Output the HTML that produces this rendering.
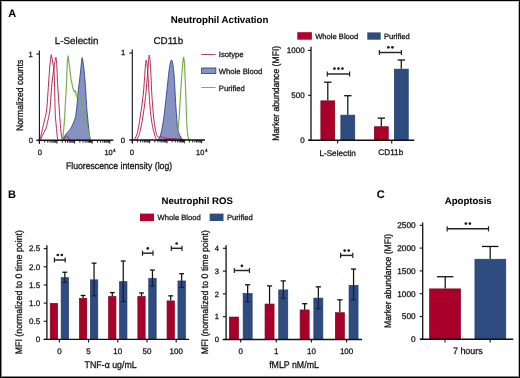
<!DOCTYPE html>
<html><head><meta charset="utf-8"><style>
html,body{margin:0;padding:0;background:#fff;}
#fig{position:relative;width:520px;height:378px;overflow:hidden;background:#fff;}
#fig svg{position:absolute;left:0;top:0;filter:blur(0.35px);}
#frame{position:absolute;left:0;top:0;width:518px;height:376px;border-top:1px solid #000;border-left:1px solid #000;border-right:1px solid #000;border-bottom:1px solid #000;}
#fr2{position:absolute;left:1px;top:1px;width:516px;height:374px;border-left:1px solid #888;border-top:1px solid #ccc;border-right:1px solid #b8b8b8;border-bottom:1px solid #858585;}
text{font-family:"Liberation Sans", sans-serif;text-rendering:geometricPrecision;stroke:#111;stroke-width:0.26px;paint-order:stroke;}
</style></head><body>
<div id="fig">
<svg width="520" height="378" viewBox="0 0 520 378">
<g font-family="Liberation Sans, sans-serif">
<text x="8.3" y="16.6" font-size="11" text-anchor="start" font-weight="bold" fill="#000" style="stroke-width:0.05px" >A</text>
<text x="7.9" y="198.4" font-size="11" text-anchor="start" font-weight="bold" fill="#000" style="stroke-width:0.05px" >B</text>
<text x="376.8" y="198.4" font-size="11" text-anchor="start" font-weight="bold" fill="#000" style="stroke-width:0.05px" >C</text>
<text x="219.6" y="22.5" font-size="9.7" text-anchor="middle" font-weight="bold" fill="#000" style="stroke-width:0.05px" >Neutrophil Activation</text>
<text x="197.2" y="204.0" font-size="9.6" text-anchor="middle" font-weight="bold" fill="#000" style="stroke-width:0.05px" >Neutrophil ROS</text>
<text x="468.2" y="204.0" font-size="9.6" text-anchor="middle" font-weight="bold" fill="#000" style="stroke-width:0.05px" >Apoptosis</text>
<path d="M61.50,140.30 C61.90,139.75 63.03,138.17 63.90,137.00 C64.77,135.83 65.93,134.25 66.70,133.30 C67.47,132.35 67.92,131.97 68.50,131.30 C69.08,130.63 69.63,130.15 70.20,129.30 C70.77,128.45 71.33,127.37 71.90,126.20 C72.47,125.03 73.08,123.53 73.60,122.30 C74.12,121.07 74.62,120.10 75.00,118.80 C75.38,117.50 75.63,116.13 75.90,114.50 C76.17,112.87 76.38,110.92 76.60,109.00 C76.82,107.08 77.00,105.33 77.20,103.00 C77.40,100.67 77.55,97.67 77.80,95.00 C78.05,92.33 78.40,89.50 78.70,87.00 C79.00,84.50 79.30,82.50 79.60,80.00 C79.90,77.50 80.23,74.50 80.50,72.00 C80.77,69.50 81.00,67.00 81.20,65.00 C81.40,63.00 81.55,61.23 81.70,60.00 C81.85,58.77 81.93,57.60 82.10,57.60 C82.27,57.60 82.45,58.60 82.70,60.00 C82.95,61.40 83.32,63.67 83.60,66.00 C83.88,68.33 84.15,71.50 84.40,74.00 C84.65,76.50 84.88,78.33 85.10,81.00 C85.32,83.67 85.48,86.50 85.70,90.00 C85.92,93.50 86.20,98.67 86.40,102.00 C86.60,105.33 86.70,107.50 86.90,110.00 C87.10,112.50 87.35,114.33 87.60,117.00 C87.85,119.67 88.13,123.33 88.40,126.00 C88.67,128.67 88.95,131.08 89.20,133.00 C89.45,134.92 89.67,136.28 89.90,137.50 C90.13,138.72 90.48,139.83 90.60,140.30 Z" fill="#8692c2" stroke="#34448a" stroke-width="0.9"/>
<path d="M39.60,140.30 C39.70,139.92 39.93,138.97 40.20,138.00 C40.47,137.03 40.80,136.08 41.20,134.50 C41.60,132.92 42.03,130.92 42.60,128.50 C43.17,126.08 43.93,123.08 44.60,120.00 C45.27,116.92 46.07,114.17 46.60,110.00 C47.13,105.83 47.43,100.00 47.80,95.00 C48.17,90.00 48.47,84.67 48.80,80.00 C49.13,75.33 49.48,70.67 49.80,67.00 C50.12,63.33 50.45,60.07 50.70,58.00 C50.95,55.93 51.08,54.60 51.30,54.60 C51.52,54.60 51.72,56.43 52.00,58.00 C52.28,59.57 52.68,62.17 53.00,64.00 C53.32,65.83 53.67,66.33 53.90,69.00 C54.13,71.67 54.25,75.67 54.40,80.00 C54.55,84.33 54.68,90.00 54.80,95.00 C54.92,100.00 54.95,105.83 55.10,110.00 C55.25,114.17 55.47,116.92 55.70,120.00 C55.93,123.08 56.27,126.00 56.50,128.50 C56.73,131.00 56.87,133.03 57.10,135.00 C57.33,136.97 57.77,139.42 57.90,140.30" fill="none" stroke="#b0204c" stroke-width="0.95" stroke-linejoin="round"/>
<path d="M40.50,140.30 C40.70,139.78 41.20,138.38 41.70,137.20 C42.20,136.02 42.80,134.65 43.50,133.20 C44.20,131.75 45.15,130.70 45.90,128.50 C46.65,126.30 47.33,123.08 48.00,120.00 C48.67,116.92 49.40,114.17 49.90,110.00 C50.40,105.83 50.60,100.00 51.00,95.00 C51.40,90.00 51.82,84.45 52.30,80.00 C52.78,75.55 53.47,71.38 53.90,68.30 C54.33,65.22 54.57,63.35 54.90,61.50 C55.23,59.65 55.63,57.12 55.90,57.20 C56.17,57.28 56.32,59.87 56.50,62.00 C56.68,64.13 56.85,67.00 57.00,70.00 C57.15,73.00 57.18,75.83 57.40,80.00 C57.62,84.17 57.98,90.00 58.30,95.00 C58.62,100.00 59.02,105.83 59.30,110.00 C59.58,114.17 59.77,116.92 60.00,120.00 C60.23,123.08 60.48,126.00 60.70,128.50 C60.92,131.00 61.08,133.20 61.30,135.00 C61.52,136.80 61.78,138.42 62.00,139.30 C62.22,140.18 62.50,140.13 62.60,140.30" fill="none" stroke="#b0204c" stroke-width="0.95" stroke-linejoin="round"/>
<path d="M62.60,140.30 C62.83,140.08 63.52,139.57 64.00,139.00 C64.48,138.43 65.05,137.37 65.50,136.90 C65.95,136.43 66.28,136.18 66.70,136.20 C67.12,136.22 67.53,136.48 68.00,137.00 C68.47,137.52 69.00,138.75 69.50,139.30 C70.00,139.85 70.75,140.13 71.00,140.30" fill="none" stroke="#b0204c" stroke-width="0.95" stroke-linejoin="round"/>
<path d="M62.00,140.30 C62.10,140.00 62.30,140.47 62.60,138.50 C62.90,136.53 63.43,132.58 63.80,128.50 C64.17,124.42 64.53,118.25 64.80,114.00 C65.07,109.75 65.15,107.33 65.40,103.00 C65.65,98.67 66.03,93.50 66.30,88.00 C66.57,82.50 66.80,74.50 67.00,70.00 C67.20,65.50 67.33,63.37 67.50,61.00 C67.67,58.63 67.82,55.97 68.00,55.80 C68.18,55.63 68.33,57.97 68.60,60.00 C68.87,62.03 69.27,65.33 69.60,68.00 C69.93,70.67 70.27,73.67 70.60,76.00 C70.93,78.33 71.22,80.00 71.60,82.00 C71.98,84.00 72.40,86.37 72.90,88.00 C73.40,89.63 74.15,91.30 74.60,91.80 C75.05,92.30 75.33,90.38 75.60,91.00 C75.87,91.62 75.97,94.58 76.20,95.50 C76.43,96.42 76.70,96.62 77.00,96.50 C77.30,96.38 77.67,94.75 78.00,94.80 C78.33,94.85 78.63,96.40 79.00,96.80 C79.37,97.20 79.82,96.92 80.20,97.20 C80.58,97.48 80.90,97.03 81.30,98.50 C81.70,99.97 82.15,103.58 82.60,106.00 C83.05,108.42 83.53,110.83 84.00,113.00 C84.47,115.17 84.90,116.83 85.40,119.00 C85.90,121.17 86.53,124.00 87.00,126.00 C87.47,128.00 87.83,129.42 88.20,131.00 C88.57,132.58 88.92,134.23 89.20,135.50 C89.48,136.77 89.67,137.80 89.90,138.60 C90.13,139.40 90.48,140.02 90.60,140.30" fill="none" stroke="#74ae46" stroke-width="1.15" stroke-linejoin="round"/>
<line x1="39.4" y1="50.4" x2="39.4" y2="143.70000000000002" stroke="#111" stroke-width="1.1" />
<line x1="36.4" y1="54.0" x2="39.4" y2="54.0" stroke="#111" stroke-width="1.1" />
<line x1="36.4" y1="140.3" x2="113.3" y2="140.3" stroke="#111" stroke-width="1.4" />
<line x1="39.4" y1="140.3" x2="39.4" y2="143.60000000000002" stroke="#111" stroke-width="0.95" />
<line x1="44.7" y1="140.3" x2="44.7" y2="142.70000000000002" stroke="#111" stroke-width="0.95" />
<line x1="47.8" y1="140.3" x2="47.8" y2="142.70000000000002" stroke="#111" stroke-width="0.95" />
<line x1="50.0" y1="140.3" x2="50.0" y2="142.70000000000002" stroke="#111" stroke-width="0.95" />
<line x1="51.7" y1="140.3" x2="51.7" y2="142.70000000000002" stroke="#111" stroke-width="0.95" />
<line x1="53.1" y1="140.3" x2="53.1" y2="142.70000000000002" stroke="#111" stroke-width="0.95" />
<line x1="54.27" y1="140.3" x2="54.27" y2="142.70000000000002" stroke="#111" stroke-width="0.95" />
<line x1="55.29" y1="140.3" x2="55.29" y2="142.70000000000002" stroke="#111" stroke-width="0.95" />
<line x1="56.19" y1="140.3" x2="56.19" y2="142.70000000000002" stroke="#111" stroke-width="0.95" />
<line x1="57.0" y1="140.3" x2="57.0" y2="143.60000000000002" stroke="#111" stroke-width="0.95" />
<line x1="62.3" y1="140.3" x2="62.3" y2="142.70000000000002" stroke="#111" stroke-width="0.95" />
<line x1="65.4" y1="140.3" x2="65.4" y2="142.70000000000002" stroke="#111" stroke-width="0.95" />
<line x1="67.6" y1="140.3" x2="67.6" y2="142.70000000000002" stroke="#111" stroke-width="0.95" />
<line x1="69.3" y1="140.3" x2="69.3" y2="142.70000000000002" stroke="#111" stroke-width="0.95" />
<line x1="70.7" y1="140.3" x2="70.7" y2="142.70000000000002" stroke="#111" stroke-width="0.95" />
<line x1="71.87" y1="140.3" x2="71.87" y2="142.70000000000002" stroke="#111" stroke-width="0.95" />
<line x1="72.89" y1="140.3" x2="72.89" y2="142.70000000000002" stroke="#111" stroke-width="0.95" />
<line x1="73.79" y1="140.3" x2="73.79" y2="142.70000000000002" stroke="#111" stroke-width="0.95" />
<line x1="74.6" y1="140.3" x2="74.6" y2="143.60000000000002" stroke="#111" stroke-width="0.95" />
<line x1="79.9" y1="140.3" x2="79.9" y2="142.70000000000002" stroke="#111" stroke-width="0.95" />
<line x1="83.0" y1="140.3" x2="83.0" y2="142.70000000000002" stroke="#111" stroke-width="0.95" />
<line x1="85.2" y1="140.3" x2="85.2" y2="142.70000000000002" stroke="#111" stroke-width="0.95" />
<line x1="86.9" y1="140.3" x2="86.9" y2="142.70000000000002" stroke="#111" stroke-width="0.95" />
<line x1="88.3" y1="140.3" x2="88.3" y2="142.70000000000002" stroke="#111" stroke-width="0.95" />
<line x1="89.47" y1="140.3" x2="89.47" y2="142.70000000000002" stroke="#111" stroke-width="0.95" />
<line x1="90.49" y1="140.3" x2="90.49" y2="142.70000000000002" stroke="#111" stroke-width="0.95" />
<line x1="91.39" y1="140.3" x2="91.39" y2="142.70000000000002" stroke="#111" stroke-width="0.95" />
<line x1="92.2" y1="140.3" x2="92.2" y2="143.60000000000002" stroke="#111" stroke-width="0.95" />
<line x1="97.5" y1="140.3" x2="97.5" y2="142.70000000000002" stroke="#111" stroke-width="0.95" />
<line x1="100.6" y1="140.3" x2="100.6" y2="142.70000000000002" stroke="#111" stroke-width="0.95" />
<line x1="102.8" y1="140.3" x2="102.8" y2="142.70000000000002" stroke="#111" stroke-width="0.95" />
<line x1="104.5" y1="140.3" x2="104.5" y2="142.70000000000002" stroke="#111" stroke-width="0.95" />
<line x1="105.9" y1="140.3" x2="105.9" y2="142.70000000000002" stroke="#111" stroke-width="0.95" />
<line x1="107.07" y1="140.3" x2="107.07" y2="142.70000000000002" stroke="#111" stroke-width="0.95" />
<line x1="108.09" y1="140.3" x2="108.09" y2="142.70000000000002" stroke="#111" stroke-width="0.95" />
<line x1="108.99" y1="140.3" x2="108.99" y2="142.70000000000002" stroke="#111" stroke-width="0.95" />
<line x1="109.8" y1="140.3" x2="109.8" y2="143.60000000000002" stroke="#111" stroke-width="1.0" />
<text x="30.6" y="56.51" font-size="7.6" text-anchor="middle" font-weight="normal" fill="#111" >1</text>
<text x="30.8" y="143.06" font-size="7.6" text-anchor="middle" font-weight="normal" fill="#111" >0</text>
<text x="39.8" y="154.86" font-size="7.6" text-anchor="middle" font-weight="normal" fill="#111" >0</text>
<text x="104.5" y="155.0" font-size="7.4" text-anchor="start" font-weight="normal" fill="#111" >10</text>
<text x="112.9" y="151.6" font-size="4.6" text-anchor="start" font-weight="normal" fill="#111" >4</text>
<text x="76.6" y="44.37" font-size="9.8" text-anchor="middle" font-weight="normal" fill="#111" >L-Selectin</text>
<text transform="translate(19.3,95.3) rotate(-90) scale(1,1.1)" x="0" y="2.96" font-size="8.6" text-anchor="middle" fill="#111">Normalized counts</text>
<g transform="translate(119.0,169.49) scale(1,1.1)"><text x="0" y="0" font-size="8.7" text-anchor="middle" font-weight="normal" fill="#111" >Fluorescence intensity (log)</text></g>
<path d="M157.30,140.30 C157.62,139.95 158.62,139.25 159.20,138.20 C159.78,137.15 160.28,135.87 160.80,134.00 C161.32,132.13 161.80,129.67 162.30,127.00 C162.80,124.33 163.32,121.50 163.80,118.00 C164.28,114.50 164.77,109.83 165.20,106.00 C165.63,102.17 166.00,98.67 166.40,95.00 C166.80,91.33 167.18,87.83 167.60,84.00 C168.02,80.17 168.45,75.50 168.90,72.00 C169.35,68.50 169.87,65.00 170.30,63.00 C170.73,61.00 171.12,60.00 171.50,60.00 C171.88,60.00 172.22,61.00 172.60,63.00 C172.98,65.00 173.45,68.33 173.80,72.00 C174.15,75.67 174.45,80.83 174.70,85.00 C174.95,89.17 175.10,93.33 175.30,97.00 C175.50,100.67 175.68,103.67 175.90,107.00 C176.12,110.33 176.35,113.75 176.60,117.00 C176.85,120.25 177.08,124.00 177.40,126.50 C177.72,129.00 178.07,130.45 178.50,132.00 C178.93,133.55 179.48,134.75 180.00,135.80 C180.52,136.85 181.05,137.55 181.60,138.30 C182.15,139.05 183.02,139.97 183.30,140.30 Z" fill="#8692c2" stroke="#34448a" stroke-width="0.9"/>
<path d="M133.50,140.30 C133.75,140.00 134.42,139.55 135.00,138.50 C135.58,137.45 136.40,135.97 137.00,134.00 C137.60,132.03 138.02,129.87 138.60,126.70 C139.18,123.53 139.88,119.12 140.50,115.00 C141.12,110.88 141.80,105.83 142.30,102.00 C142.80,98.17 143.13,95.83 143.50,92.00 C143.87,88.17 144.18,83.33 144.50,79.00 C144.82,74.67 145.12,69.13 145.40,66.00 C145.68,62.87 145.93,60.53 146.20,60.20 C146.47,59.87 146.70,61.37 147.00,64.00 C147.30,66.63 147.67,71.33 148.00,76.00 C148.33,80.67 148.65,86.67 149.00,92.00 C149.35,97.33 149.68,103.33 150.10,108.00 C150.52,112.67 151.03,116.67 151.50,120.00 C151.97,123.33 152.42,125.67 152.90,128.00 C153.38,130.33 153.90,132.27 154.40,134.00 C154.90,135.73 155.45,137.35 155.90,138.40 C156.35,139.45 156.90,139.98 157.10,140.30" fill="none" stroke="#b0204c" stroke-width="0.95" stroke-linejoin="round"/>
<path d="M135.50,140.30 C135.75,140.08 136.42,139.85 137.00,139.00 C137.58,138.15 138.33,137.20 139.00,135.20 C139.67,133.20 140.33,130.20 141.00,127.00 C141.67,123.80 142.37,120.00 143.00,116.00 C143.63,112.00 144.27,107.33 144.80,103.00 C145.33,98.67 145.77,94.50 146.20,90.00 C146.63,85.50 147.02,80.67 147.40,76.00 C147.78,71.33 148.20,65.50 148.50,62.00 C148.80,58.50 148.95,55.33 149.20,55.00 C149.45,54.67 149.73,57.17 150.00,60.00 C150.27,62.83 150.53,67.00 150.80,72.00 C151.07,77.00 151.32,84.67 151.60,90.00 C151.88,95.33 152.17,99.50 152.50,104.00 C152.83,108.50 153.18,113.17 153.60,117.00 C154.02,120.83 154.55,124.25 155.00,127.00 C155.45,129.75 155.87,131.90 156.30,133.50 C156.73,135.10 157.07,135.98 157.60,136.60 C158.13,137.22 158.85,137.17 159.50,137.20 C160.15,137.23 160.83,136.73 161.50,136.80 C162.17,136.87 162.75,137.35 163.50,137.60 C164.25,137.85 164.92,138.13 166.00,138.30 C167.08,138.47 168.50,138.53 170.00,138.60 C171.50,138.67 173.33,138.65 175.00,138.70 C176.67,138.75 178.58,138.75 180.00,138.90 C181.42,139.05 182.58,139.37 183.50,139.60 C184.42,139.83 185.17,140.18 185.50,140.30" fill="none" stroke="#b0204c" stroke-width="0.95" stroke-linejoin="round"/>
<path d="M176.40,140.30 C176.55,139.92 177.00,140.05 177.30,138.00 C177.60,135.95 177.88,131.67 178.20,128.00 C178.52,124.33 178.90,120.17 179.20,116.00 C179.50,111.83 179.73,107.33 180.00,103.00 C180.27,98.67 180.50,94.67 180.80,90.00 C181.10,85.33 181.47,79.50 181.80,75.00 C182.13,70.50 182.50,65.95 182.80,63.00 C183.10,60.05 183.35,57.47 183.60,57.30 C183.85,57.13 184.07,59.05 184.30,62.00 C184.53,64.95 184.77,70.00 185.00,75.00 C185.23,80.00 185.50,86.50 185.70,92.00 C185.90,97.50 186.02,102.67 186.20,108.00 C186.38,113.33 186.58,119.83 186.80,124.00 C187.02,128.17 187.23,130.58 187.50,133.00 C187.77,135.42 188.08,137.28 188.40,138.50 C188.72,139.72 189.23,140.00 189.40,140.30" fill="none" stroke="#74ae46" stroke-width="1.15" stroke-linejoin="round"/>
<line x1="132.3" y1="49.5" x2="132.3" y2="143.4" stroke="#111" stroke-width="1.1" />
<line x1="129.3" y1="53.0" x2="132.3" y2="53.0" stroke="#111" stroke-width="1.1" />
<line x1="129.3" y1="140.0" x2="205.0" y2="140.0" stroke="#111" stroke-width="1.4" />
<line x1="132.3" y1="140.0" x2="132.3" y2="143.3" stroke="#111" stroke-width="0.95" />
<line x1="137.52" y1="140.0" x2="137.52" y2="142.4" stroke="#111" stroke-width="0.95" />
<line x1="140.58" y1="140.0" x2="140.58" y2="142.4" stroke="#111" stroke-width="0.95" />
<line x1="142.75" y1="140.0" x2="142.75" y2="142.4" stroke="#111" stroke-width="0.95" />
<line x1="144.43" y1="140.0" x2="144.43" y2="142.4" stroke="#111" stroke-width="0.95" />
<line x1="145.8" y1="140.0" x2="145.8" y2="142.4" stroke="#111" stroke-width="0.95" />
<line x1="146.96" y1="140.0" x2="146.96" y2="142.4" stroke="#111" stroke-width="0.95" />
<line x1="147.97" y1="140.0" x2="147.97" y2="142.4" stroke="#111" stroke-width="0.95" />
<line x1="148.86" y1="140.0" x2="148.86" y2="142.4" stroke="#111" stroke-width="0.95" />
<line x1="149.65" y1="140.0" x2="149.65" y2="143.3" stroke="#111" stroke-width="0.95" />
<line x1="154.87" y1="140.0" x2="154.87" y2="142.4" stroke="#111" stroke-width="0.95" />
<line x1="157.93" y1="140.0" x2="157.93" y2="142.4" stroke="#111" stroke-width="0.95" />
<line x1="160.1" y1="140.0" x2="160.1" y2="142.4" stroke="#111" stroke-width="0.95" />
<line x1="161.78" y1="140.0" x2="161.78" y2="142.4" stroke="#111" stroke-width="0.95" />
<line x1="163.15" y1="140.0" x2="163.15" y2="142.4" stroke="#111" stroke-width="0.95" />
<line x1="164.31" y1="140.0" x2="164.31" y2="142.4" stroke="#111" stroke-width="0.95" />
<line x1="165.32" y1="140.0" x2="165.32" y2="142.4" stroke="#111" stroke-width="0.95" />
<line x1="166.21" y1="140.0" x2="166.21" y2="142.4" stroke="#111" stroke-width="0.95" />
<line x1="167.0" y1="140.0" x2="167.0" y2="143.3" stroke="#111" stroke-width="0.95" />
<line x1="172.22" y1="140.0" x2="172.22" y2="142.4" stroke="#111" stroke-width="0.95" />
<line x1="175.28" y1="140.0" x2="175.28" y2="142.4" stroke="#111" stroke-width="0.95" />
<line x1="177.45" y1="140.0" x2="177.45" y2="142.4" stroke="#111" stroke-width="0.95" />
<line x1="179.13" y1="140.0" x2="179.13" y2="142.4" stroke="#111" stroke-width="0.95" />
<line x1="180.5" y1="140.0" x2="180.5" y2="142.4" stroke="#111" stroke-width="0.95" />
<line x1="181.66" y1="140.0" x2="181.66" y2="142.4" stroke="#111" stroke-width="0.95" />
<line x1="182.67" y1="140.0" x2="182.67" y2="142.4" stroke="#111" stroke-width="0.95" />
<line x1="183.56" y1="140.0" x2="183.56" y2="142.4" stroke="#111" stroke-width="0.95" />
<line x1="184.35" y1="140.0" x2="184.35" y2="143.3" stroke="#111" stroke-width="0.95" />
<line x1="189.57" y1="140.0" x2="189.57" y2="142.4" stroke="#111" stroke-width="0.95" />
<line x1="192.63" y1="140.0" x2="192.63" y2="142.4" stroke="#111" stroke-width="0.95" />
<line x1="194.8" y1="140.0" x2="194.8" y2="142.4" stroke="#111" stroke-width="0.95" />
<line x1="196.48" y1="140.0" x2="196.48" y2="142.4" stroke="#111" stroke-width="0.95" />
<line x1="197.85" y1="140.0" x2="197.85" y2="142.4" stroke="#111" stroke-width="0.95" />
<line x1="199.01" y1="140.0" x2="199.01" y2="142.4" stroke="#111" stroke-width="0.95" />
<line x1="200.02" y1="140.0" x2="200.02" y2="142.4" stroke="#111" stroke-width="0.95" />
<line x1="200.91" y1="140.0" x2="200.91" y2="142.4" stroke="#111" stroke-width="0.95" />
<line x1="201.7" y1="140.0" x2="201.7" y2="143.3" stroke="#111" stroke-width="1.0" />
<text x="123.0" y="55.46" font-size="7.6" text-anchor="middle" font-weight="normal" fill="#111" >1</text>
<text x="122.9" y="142.51" font-size="7.6" text-anchor="middle" font-weight="normal" fill="#111" >0</text>
<text x="131.9" y="155.31" font-size="7.6" text-anchor="middle" font-weight="normal" fill="#111" >0</text>
<text x="196.1" y="155.0" font-size="7.4" text-anchor="start" font-weight="normal" fill="#111" >10</text>
<text x="204.9" y="151.6" font-size="4.6" text-anchor="start" font-weight="normal" fill="#111" >4</text>
<text x="168.4" y="44.37" font-size="9.8" text-anchor="middle" font-weight="normal" fill="#111" >CD11b</text>
<line x1="201.2" y1="54.5" x2="215.6" y2="54.5" stroke="#a8506c" stroke-width="1.0" />
<text x="218.8" y="56.9" font-size="7.7" text-anchor="start" font-weight="normal" fill="#111" >Isotype</text>
<rect x="201.6" y="68.0" width="14.2" height="5.6" fill="#8692c2" stroke="#34448a" stroke-width="0.9" />
<text x="218.8" y="73.5" font-size="7.7" text-anchor="start" font-weight="normal" fill="#111" >Whole Blood</text>
<line x1="201.2" y1="87.5" x2="215.6" y2="87.5" stroke="#7cae60" stroke-width="1.0" />
<text x="218.8" y="90.5" font-size="7.7" text-anchor="start" font-weight="normal" fill="#111" >Purified</text>
<rect x="297.3" y="32.2" width="14.6" height="7.5" fill="#b3002c" stroke="none" stroke-width="0" />
<text x="315.2" y="39.0" font-size="7.6" text-anchor="start" font-weight="normal" fill="#111" >Whole Blood</text>
<rect x="367.3" y="32.4" width="13.4" height="7.3" fill="#2f4c80" stroke="none" stroke-width="0" />
<text x="384.0" y="39.0" font-size="7.6" text-anchor="start" font-weight="normal" fill="#111" >Purified</text>
<rect x="320.85" y="100.85" width="13.9" height="39.34999999999999" fill="#a9002b" stroke="#80001f" stroke-width="0.7" />
<rect x="340.85" y="115.14999999999999" width="13.9" height="25.04999999999999" fill="#2f4c80" stroke="#223a68" stroke-width="0.7" />
<rect x="374.35" y="126.75" width="13.9" height="13.449999999999983" fill="#a9002b" stroke="#80001f" stroke-width="0.7" />
<rect x="394.35" y="69.14999999999999" width="13.9" height="71.05" fill="#2f4c80" stroke="#223a68" stroke-width="0.7" />
<line x1="327.8" y1="82.2" x2="327.8" y2="100.5" stroke="#111" stroke-width="1.25" />
<line x1="324.1" y1="82.2" x2="331.5" y2="82.2" stroke="#111" stroke-width="1.3" />
<line x1="347.8" y1="95.7" x2="347.8" y2="114.8" stroke="#111" stroke-width="1.25" />
<line x1="344.1" y1="95.7" x2="351.5" y2="95.7" stroke="#111" stroke-width="1.3" />
<line x1="381.3" y1="118.1" x2="381.3" y2="126.4" stroke="#111" stroke-width="1.25" />
<line x1="377.6" y1="118.1" x2="385.0" y2="118.1" stroke="#111" stroke-width="1.3" />
<line x1="401.3" y1="60.0" x2="401.3" y2="68.8" stroke="#111" stroke-width="1.25" />
<line x1="397.6" y1="60.0" x2="405.0" y2="60.0" stroke="#111" stroke-width="1.3" />
<line x1="311.0" y1="46.7" x2="311.0" y2="140.79999999999998" stroke="#111" stroke-width="1.3" />
<line x1="308.0" y1="50.4" x2="311.0" y2="50.4" stroke="#111" stroke-width="1.1" />
<text x="304.6" y="53.15" font-size="8.0" text-anchor="end" font-weight="normal" fill="#111" >1000</text>
<line x1="308.0" y1="95.3" x2="311.0" y2="95.3" stroke="#111" stroke-width="1.1" />
<text x="304.6" y="98.05" font-size="8.0" text-anchor="end" font-weight="normal" fill="#111" >500</text>
<line x1="308.0" y1="140.2" x2="311.0" y2="140.2" stroke="#111" stroke-width="1.1" />
<text x="304.6" y="142.95" font-size="8.0" text-anchor="end" font-weight="normal" fill="#111" >0</text>
<line x1="308.5" y1="140.2" x2="414.3" y2="140.2" stroke="#111" stroke-width="1.4" />
<line x1="337.6" y1="140.2" x2="337.6" y2="143.4" stroke="#111" stroke-width="1.1" />
<line x1="391.7" y1="140.2" x2="391.7" y2="143.4" stroke="#111" stroke-width="1.1" />
<text x="337.6" y="155.72" font-size="8.2" text-anchor="middle" font-weight="normal" fill="#111" >L-Selectin</text>
<text x="390.8" y="155.22" font-size="8.2" text-anchor="middle" font-weight="normal" fill="#111" >CD11b</text>
<text transform="translate(276.1,93.25) rotate(-90) scale(1,1.1)" x="0" y="2.98" font-size="8.65" text-anchor="middle" fill="#111">Marker abundance (MFI)</text>
<line x1="327.3" y1="74.0" x2="349.6" y2="74.0" stroke="#222" stroke-width="1.45" />
<line x1="327.3" y1="71.4" x2="327.3" y2="76.6" stroke="#222" stroke-width="1.2" />
<line x1="349.6" y1="71.4" x2="349.6" y2="76.6" stroke="#222" stroke-width="1.2" />
<circle cx="334.45" cy="68.6" r="1.35" fill="#1a1a1a"/>
<circle cx="338.45" cy="68.6" r="1.35" fill="#1a1a1a"/>
<circle cx="342.45" cy="68.6" r="1.35" fill="#1a1a1a"/>
<line x1="379.4" y1="52.5" x2="401.4" y2="52.5" stroke="#222" stroke-width="1.45" />
<line x1="379.4" y1="49.9" x2="379.4" y2="55.1" stroke="#222" stroke-width="1.2" />
<line x1="401.4" y1="49.9" x2="401.4" y2="55.1" stroke="#222" stroke-width="1.2" />
<circle cx="388.40" cy="47.3" r="1.35" fill="#1a1a1a"/>
<circle cx="392.40" cy="47.3" r="1.35" fill="#1a1a1a"/>
<rect x="140.0" y="213.6" width="14.0" height="7.4" fill="#b3002c" stroke="none" stroke-width="0" />
<text x="157.6" y="220.3" font-size="7.6" text-anchor="start" font-weight="normal" fill="#111" >Whole Blood</text>
<rect x="209.7" y="213.6" width="13.8" height="7.4" fill="#2f4c80" stroke="none" stroke-width="0" />
<text x="227.0" y="220.3" font-size="7.6" text-anchor="start" font-weight="normal" fill="#111" >Purified</text>
<rect x="50.25" y="303.45" width="7.3" height="35.95000000000001" fill="#a9002b" stroke="#80001f" stroke-width="0.7" />
<rect x="61.15" y="277.677" width="7.3999999999999995" height="61.72299999999998" fill="#2f4c80" stroke="#223a68" stroke-width="0.7" />
<line x1="64.85" y1="272.245" x2="64.85" y2="277.327" stroke="#111" stroke-width="1.25" />
<line x1="62.449999999999996" y1="272.245" x2="67.25" y2="272.245" stroke="#111" stroke-width="1.3" />
<line x1="64.85" y1="277.327" x2="64.85" y2="282.409" stroke="#14203c" stroke-width="1.25" />
<line x1="62.449999999999996" y1="282.409" x2="67.25" y2="282.409" stroke="#14203c" stroke-width="1.1" />
<rect x="79.44999999999999" y="298.368" width="7.3" height="41.032000000000004" fill="#a9002b" stroke="#80001f" stroke-width="0.7" />
<rect x="90.35" y="279.855" width="7.3999999999999995" height="59.54499999999998" fill="#2f4c80" stroke="#223a68" stroke-width="0.7" />
<line x1="83.1" y1="295.477" x2="83.1" y2="298.018" stroke="#111" stroke-width="1.25" />
<line x1="80.69999999999999" y1="295.477" x2="85.5" y2="295.477" stroke="#111" stroke-width="1.3" />
<line x1="94.05" y1="263.16999999999996" x2="94.05" y2="279.505" stroke="#111" stroke-width="1.25" />
<line x1="91.64999999999999" y1="263.16999999999996" x2="96.45" y2="263.16999999999996" stroke="#111" stroke-width="1.3" />
<line x1="94.05" y1="279.505" x2="94.05" y2="295.84" stroke="#14203c" stroke-width="1.25" />
<line x1="91.64999999999999" y1="295.84" x2="96.45" y2="295.84" stroke="#14203c" stroke-width="1.1" />
<rect x="108.64999999999999" y="296.553" width="7.3" height="42.847" fill="#a9002b" stroke="#80001f" stroke-width="0.7" />
<rect x="119.55" y="281.67" width="7.3999999999999995" height="57.72999999999998" fill="#2f4c80" stroke="#223a68" stroke-width="0.7" />
<line x1="112.3" y1="292.573" x2="112.3" y2="296.203" stroke="#111" stroke-width="1.25" />
<line x1="109.89999999999999" y1="292.573" x2="114.7" y2="292.573" stroke="#111" stroke-width="1.3" />
<line x1="123.25" y1="260.99199999999996" x2="123.25" y2="281.32" stroke="#111" stroke-width="1.25" />
<line x1="120.85" y1="260.99199999999996" x2="125.65" y2="260.99199999999996" stroke="#111" stroke-width="1.3" />
<line x1="123.25" y1="281.32" x2="123.25" y2="301.64799999999997" stroke="#14203c" stroke-width="1.25" />
<line x1="120.85" y1="301.64799999999997" x2="125.65" y2="301.64799999999997" stroke="#14203c" stroke-width="1.1" />
<rect x="137.85" y="296.553" width="7.3" height="42.847" fill="#a9002b" stroke="#80001f" stroke-width="0.7" />
<rect x="148.75" y="278.403" width="7.3999999999999995" height="60.99699999999998" fill="#2f4c80" stroke="#223a68" stroke-width="0.7" />
<line x1="141.5" y1="292.936" x2="141.5" y2="296.203" stroke="#111" stroke-width="1.25" />
<line x1="139.1" y1="292.936" x2="143.9" y2="292.936" stroke="#111" stroke-width="1.3" />
<line x1="152.45" y1="270.067" x2="152.45" y2="278.053" stroke="#111" stroke-width="1.25" />
<line x1="150.04999999999998" y1="270.067" x2="154.85" y2="270.067" stroke="#111" stroke-width="1.3" />
<line x1="152.45" y1="278.053" x2="152.45" y2="286.039" stroke="#14203c" stroke-width="1.25" />
<line x1="150.04999999999998" y1="286.039" x2="154.85" y2="286.039" stroke="#14203c" stroke-width="1.1" />
<rect x="167.04999999999998" y="300.909" width="7.3" height="38.49100000000001" fill="#a9002b" stroke="#80001f" stroke-width="0.7" />
<rect x="177.95" y="280.944" width="7.3999999999999995" height="58.45599999999998" fill="#2f4c80" stroke="#223a68" stroke-width="0.7" />
<line x1="170.7" y1="295.84" x2="170.7" y2="300.55899999999997" stroke="#111" stroke-width="1.25" />
<line x1="168.29999999999998" y1="295.84" x2="173.1" y2="295.84" stroke="#111" stroke-width="1.3" />
<line x1="181.64999999999998" y1="273.697" x2="181.64999999999998" y2="280.594" stroke="#111" stroke-width="1.25" />
<line x1="179.24999999999997" y1="273.697" x2="184.04999999999998" y2="273.697" stroke="#111" stroke-width="1.3" />
<line x1="181.64999999999998" y1="280.594" x2="181.64999999999998" y2="287.491" stroke="#14203c" stroke-width="1.25" />
<line x1="179.24999999999997" y1="287.491" x2="184.04999999999998" y2="287.491" stroke="#14203c" stroke-width="1.1" />
<line x1="46.9" y1="245.2" x2="46.9" y2="340.0" stroke="#111" stroke-width="1.3" />
<line x1="43.699999999999996" y1="339.4" x2="46.9" y2="339.4" stroke="#111" stroke-width="1.1" />
<text x="40.1" y="342.15" font-size="8.0" text-anchor="end" font-weight="normal" fill="#111" >0</text>
<line x1="43.699999999999996" y1="321.25" x2="46.9" y2="321.25" stroke="#111" stroke-width="1.1" />
<text x="40.1" y="324.0" font-size="8.0" text-anchor="end" font-weight="normal" fill="#111" >0.5</text>
<line x1="43.699999999999996" y1="303.09999999999997" x2="46.9" y2="303.09999999999997" stroke="#111" stroke-width="1.1" />
<text x="40.1" y="305.85" font-size="8.0" text-anchor="end" font-weight="normal" fill="#111" >1.0</text>
<line x1="43.699999999999996" y1="284.95" x2="46.9" y2="284.95" stroke="#111" stroke-width="1.1" />
<text x="40.1" y="287.7" font-size="8.0" text-anchor="end" font-weight="normal" fill="#111" >1.5</text>
<line x1="43.699999999999996" y1="266.79999999999995" x2="46.9" y2="266.79999999999995" stroke="#111" stroke-width="1.1" />
<text x="40.1" y="269.55" font-size="8.0" text-anchor="end" font-weight="normal" fill="#111" >2.0</text>
<line x1="43.699999999999996" y1="248.64999999999998" x2="46.9" y2="248.64999999999998" stroke="#111" stroke-width="1.1" />
<text x="40.1" y="251.4" font-size="8.0" text-anchor="end" font-weight="normal" fill="#111" >2.5</text>
<line x1="43.7" y1="339.4" x2="189.2" y2="339.4" stroke="#111" stroke-width="1.4" />
<line x1="59.4" y1="339.4" x2="59.4" y2="342.4" stroke="#111" stroke-width="1.1" />
<text x="59.4" y="353.95" font-size="8.0" text-anchor="middle" font-weight="normal" fill="#111" >0</text>
<line x1="88.6" y1="339.4" x2="88.6" y2="342.4" stroke="#111" stroke-width="1.1" />
<text x="88.6" y="353.95" font-size="8.0" text-anchor="middle" font-weight="normal" fill="#111" >5</text>
<line x1="117.8" y1="339.4" x2="117.8" y2="342.4" stroke="#111" stroke-width="1.1" />
<text x="117.8" y="353.95" font-size="8.0" text-anchor="middle" font-weight="normal" fill="#111" >10</text>
<line x1="147.0" y1="339.4" x2="147.0" y2="342.4" stroke="#111" stroke-width="1.1" />
<text x="147.0" y="353.95" font-size="8.0" text-anchor="middle" font-weight="normal" fill="#111" >50</text>
<line x1="176.2" y1="339.4" x2="176.2" y2="342.4" stroke="#111" stroke-width="1.1" />
<text x="176.2" y="353.95" font-size="8.0" text-anchor="middle" font-weight="normal" fill="#111" >100</text>
<g transform="translate(110.6,368.23) scale(1,1.1)"><text x="0" y="0" font-size="8.8" text-anchor="middle" font-weight="normal" fill="#111" >TNF-α ug/mL</text></g>
<text transform="translate(19.0,292.15) rotate(-90) scale(1,1.08)" x="0" y="3.03" font-size="8.8" text-anchor="middle" fill="#111">MFI (normalized to 0 time point)</text>
<line x1="54.4" y1="260.0" x2="65.2" y2="260.0" stroke="#222" stroke-width="1.45" />
<line x1="54.4" y1="257.4" x2="54.4" y2="262.6" stroke="#222" stroke-width="1.2" />
<line x1="65.2" y1="257.4" x2="65.2" y2="262.6" stroke="#222" stroke-width="1.2" />
<circle cx="57.80" cy="255.0" r="1.35" fill="#1a1a1a"/>
<circle cx="61.80" cy="255.0" r="1.35" fill="#1a1a1a"/>
<line x1="142.5" y1="253.2" x2="153.0" y2="253.2" stroke="#222" stroke-width="1.45" />
<line x1="142.5" y1="250.6" x2="142.5" y2="255.79999999999998" stroke="#222" stroke-width="1.2" />
<line x1="153.0" y1="250.6" x2="153.0" y2="255.79999999999998" stroke="#222" stroke-width="1.2" />
<circle cx="147.75" cy="248.4" r="1.35" fill="#1a1a1a"/>
<line x1="171.3" y1="248.3" x2="182.0" y2="248.3" stroke="#222" stroke-width="1.45" />
<line x1="171.3" y1="245.70000000000002" x2="171.3" y2="250.9" stroke="#222" stroke-width="1.2" />
<line x1="182.0" y1="245.70000000000002" x2="182.0" y2="250.9" stroke="#222" stroke-width="1.2" />
<circle cx="176.65" cy="243.5" r="1.35" fill="#1a1a1a"/>
<rect x="229.45" y="317.05" width="9.0" height="22.45000000000001" fill="#a9002b" stroke="#80001f" stroke-width="0.7" />
<rect x="243.14999999999998" y="293.56600000000003" width="9.0" height="45.93399999999999" fill="#2f4c80" stroke="#223a68" stroke-width="0.7" />
<line x1="247.64999999999998" y1="284.78" x2="247.64999999999998" y2="293.216" stroke="#111" stroke-width="1.25" />
<line x1="245.04999999999998" y1="284.78" x2="250.24999999999997" y2="284.78" stroke="#111" stroke-width="1.3" />
<line x1="247.64999999999998" y1="293.216" x2="247.64999999999998" y2="301.652" stroke="#14203c" stroke-width="1.25" />
<line x1="245.04999999999998" y1="301.652" x2="250.24999999999997" y2="301.652" stroke="#14203c" stroke-width="1.1" />
<rect x="265.05" y="304.05400000000003" width="9.0" height="35.44599999999999" fill="#a9002b" stroke="#80001f" stroke-width="0.7" />
<rect x="278.75000000000006" y="289.918" width="9.0" height="49.582000000000015" fill="#2f4c80" stroke="#223a68" stroke-width="0.7" />
<line x1="269.55" y1="285.92" x2="269.55" y2="303.704" stroke="#111" stroke-width="1.25" />
<line x1="266.95" y1="285.92" x2="272.15000000000003" y2="285.92" stroke="#111" stroke-width="1.3" />
<line x1="283.25" y1="280.904" x2="283.25" y2="289.568" stroke="#111" stroke-width="1.25" />
<line x1="280.65" y1="280.904" x2="285.85" y2="280.904" stroke="#111" stroke-width="1.3" />
<line x1="283.25" y1="289.568" x2="283.25" y2="298.23199999999997" stroke="#14203c" stroke-width="1.25" />
<line x1="280.65" y1="298.23199999999997" x2="285.85" y2="298.23199999999997" stroke="#14203c" stroke-width="1.1" />
<rect x="300.15" y="309.982" width="9.0" height="29.517999999999994" fill="#a9002b" stroke="#80001f" stroke-width="0.7" />
<rect x="313.85" y="298.12600000000003" width="9.0" height="41.37399999999999" fill="#2f4c80" stroke="#223a68" stroke-width="0.7" />
<line x1="304.65" y1="303.704" x2="304.65" y2="309.632" stroke="#111" stroke-width="1.25" />
<line x1="302.04999999999995" y1="303.704" x2="307.25" y2="303.704" stroke="#111" stroke-width="1.3" />
<line x1="318.34999999999997" y1="286.832" x2="318.34999999999997" y2="297.776" stroke="#111" stroke-width="1.25" />
<line x1="315.74999999999994" y1="286.832" x2="320.95" y2="286.832" stroke="#111" stroke-width="1.3" />
<line x1="318.34999999999997" y1="297.776" x2="318.34999999999997" y2="308.71999999999997" stroke="#14203c" stroke-width="1.25" />
<line x1="315.74999999999994" y1="308.71999999999997" x2="320.95" y2="308.71999999999997" stroke="#14203c" stroke-width="1.1" />
<rect x="335.35" y="312.718" width="9.0" height="26.782000000000004" fill="#a9002b" stroke="#80001f" stroke-width="0.7" />
<rect x="349.05000000000007" y="285.358" width="9.0" height="54.14200000000002" fill="#2f4c80" stroke="#223a68" stroke-width="0.7" />
<line x1="339.85" y1="299.828" x2="339.85" y2="312.368" stroke="#111" stroke-width="1.25" />
<line x1="337.25" y1="299.828" x2="342.45000000000005" y2="299.828" stroke="#111" stroke-width="1.3" />
<line x1="353.55" y1="269.048" x2="353.55" y2="285.008" stroke="#111" stroke-width="1.25" />
<line x1="350.95" y1="269.048" x2="356.15000000000003" y2="269.048" stroke="#111" stroke-width="1.3" />
<line x1="353.55" y1="285.008" x2="353.55" y2="299.828" stroke="#14203c" stroke-width="1.25" />
<line x1="350.95" y1="299.828" x2="356.15000000000003" y2="299.828" stroke="#14203c" stroke-width="1.1" />
<line x1="226.1" y1="245.2" x2="226.1" y2="340.1" stroke="#111" stroke-width="1.3" />
<line x1="222.79999999999998" y1="339.5" x2="226.1" y2="339.5" stroke="#111" stroke-width="1.1" />
<text x="219.0" y="342.11" font-size="7.6" text-anchor="end" font-weight="normal" fill="#111" >0</text>
<line x1="222.79999999999998" y1="316.7" x2="226.1" y2="316.7" stroke="#111" stroke-width="1.1" />
<text x="219.0" y="319.31" font-size="7.6" text-anchor="end" font-weight="normal" fill="#111" >1</text>
<line x1="222.79999999999998" y1="293.9" x2="226.1" y2="293.9" stroke="#111" stroke-width="1.1" />
<text x="219.0" y="296.51" font-size="7.6" text-anchor="end" font-weight="normal" fill="#111" >2</text>
<line x1="222.79999999999998" y1="271.1" x2="226.1" y2="271.1" stroke="#111" stroke-width="1.1" />
<text x="219.0" y="273.71" font-size="7.6" text-anchor="end" font-weight="normal" fill="#111" >3</text>
<line x1="222.79999999999998" y1="248.3" x2="226.1" y2="248.3" stroke="#111" stroke-width="1.1" />
<text x="219.0" y="250.91" font-size="7.6" text-anchor="end" font-weight="normal" fill="#111" >4</text>
<line x1="222.8" y1="339.5" x2="362.0" y2="339.5" stroke="#111" stroke-width="1.4" />
<line x1="240.7" y1="339.5" x2="240.7" y2="342.5" stroke="#111" stroke-width="1.1" />
<text x="240.7" y="353.65" font-size="8.0" text-anchor="middle" font-weight="normal" fill="#111" >0</text>
<line x1="276.3" y1="339.5" x2="276.3" y2="342.5" stroke="#111" stroke-width="1.1" />
<text x="276.3" y="353.65" font-size="8.0" text-anchor="middle" font-weight="normal" fill="#111" >1</text>
<line x1="311.4" y1="339.5" x2="311.4" y2="342.5" stroke="#111" stroke-width="1.1" />
<text x="311.4" y="353.65" font-size="8.0" text-anchor="middle" font-weight="normal" fill="#111" >10</text>
<line x1="346.6" y1="339.5" x2="346.6" y2="342.5" stroke="#111" stroke-width="1.1" />
<text x="346.6" y="353.65" font-size="8.0" text-anchor="middle" font-weight="normal" fill="#111" >100</text>
<g transform="translate(294.0,367.93) scale(1,1.1)"><text x="0" y="0" font-size="8.8" text-anchor="middle" font-weight="normal" fill="#111" >fMLP nM/mL</text></g>
<text transform="translate(204.6,292.1) rotate(-90) scale(1,1.08)" x="0" y="3.03" font-size="8.8" text-anchor="middle" fill="#111">MFI (normalized to 0 time point)</text>
<line x1="234.3" y1="270.5" x2="249.5" y2="270.5" stroke="#222" stroke-width="1.45" />
<line x1="234.3" y1="267.9" x2="234.3" y2="273.1" stroke="#222" stroke-width="1.2" />
<line x1="249.5" y1="267.9" x2="249.5" y2="273.1" stroke="#222" stroke-width="1.2" />
<circle cx="241.90" cy="265.8" r="1.35" fill="#1a1a1a"/>
<line x1="340.6" y1="255.4" x2="352.8" y2="255.4" stroke="#222" stroke-width="1.45" />
<line x1="340.6" y1="252.8" x2="340.6" y2="258.0" stroke="#222" stroke-width="1.2" />
<line x1="352.8" y1="252.8" x2="352.8" y2="258.0" stroke="#222" stroke-width="1.2" />
<circle cx="344.70" cy="250.6" r="1.35" fill="#1a1a1a"/>
<circle cx="348.70" cy="250.6" r="1.35" fill="#1a1a1a"/>
<rect x="429.65000000000003" y="288.89720000000005" width="30.900000000000002" height="50.40279999999998" fill="#a9002b" stroke="#80001f" stroke-width="0.7" />
<rect x="474.95000000000005" y="259.2572" width="30.8" height="80.04280000000003" fill="#2f4c80" stroke="#223a68" stroke-width="0.7" />
<line x1="445.2" y1="276.7368" x2="445.2" y2="288.54720000000003" stroke="#111" stroke-width="1.25" />
<line x1="437.0" y1="276.7368" x2="453.4" y2="276.7368" stroke="#111" stroke-width="1.3" />
<line x1="490.2" y1="246.4584" x2="490.2" y2="258.9072" stroke="#111" stroke-width="1.25" />
<line x1="482.0" y1="246.4584" x2="498.4" y2="246.4584" stroke="#111" stroke-width="1.3" />
<line x1="422.7" y1="222.5" x2="422.7" y2="339.90000000000003" stroke="#111" stroke-width="1.3" />
<line x1="419.7" y1="339.3" x2="422.7" y2="339.3" stroke="#111" stroke-width="1.1" />
<text x="415.7" y="342.16" font-size="8.3" text-anchor="end" font-weight="normal" fill="#111" >0</text>
<line x1="419.7" y1="316.5" x2="422.7" y2="316.5" stroke="#111" stroke-width="1.1" />
<text x="415.7" y="319.36" font-size="8.3" text-anchor="end" font-weight="normal" fill="#111" >500</text>
<line x1="419.7" y1="293.7" x2="422.7" y2="293.7" stroke="#111" stroke-width="1.1" />
<text x="415.7" y="296.56" font-size="8.3" text-anchor="end" font-weight="normal" fill="#111" >1000</text>
<line x1="419.7" y1="270.9" x2="422.7" y2="270.9" stroke="#111" stroke-width="1.1" />
<text x="415.7" y="273.76" font-size="8.3" text-anchor="end" font-weight="normal" fill="#111" >1500</text>
<line x1="419.7" y1="248.10000000000002" x2="422.7" y2="248.10000000000002" stroke="#111" stroke-width="1.1" />
<text x="415.7" y="250.96" font-size="8.3" text-anchor="end" font-weight="normal" fill="#111" >2000</text>
<line x1="419.7" y1="225.3" x2="422.7" y2="225.3" stroke="#111" stroke-width="1.1" />
<text x="415.7" y="228.16" font-size="8.3" text-anchor="end" font-weight="normal" fill="#111" >2500</text>
<line x1="420.0" y1="339.3" x2="513.3" y2="339.3" stroke="#111" stroke-width="1.4" />
<line x1="445.0" y1="339.3" x2="445.0" y2="342.6" stroke="#111" stroke-width="1.1" />
<line x1="490.2" y1="339.3" x2="490.2" y2="342.6" stroke="#111" stroke-width="1.1" />
<g transform="translate(467.8,354.25) scale(1,1.06)"><text x="0" y="0" font-size="8.9" text-anchor="middle" font-weight="normal" fill="#111" >7 hours</text></g>
<text transform="translate(387.4,280.9) rotate(-90) scale(1,1.1)" x="0" y="2.94" font-size="8.55" text-anchor="middle" fill="#111">Marker abundance (MFI)</text>
<line x1="447.2" y1="228.8" x2="488.5" y2="228.8" stroke="#222" stroke-width="1.45" />
<line x1="447.2" y1="226.20000000000002" x2="447.2" y2="231.4" stroke="#222" stroke-width="1.2" />
<line x1="488.5" y1="226.20000000000002" x2="488.5" y2="231.4" stroke="#222" stroke-width="1.2" />
<circle cx="465.85" cy="223.6" r="1.35" fill="#1a1a1a"/>
<circle cx="469.85" cy="223.6" r="1.35" fill="#1a1a1a"/>
</g>
</svg>
<div id="frame"></div><div id="fr2"></div>
</div>
</body></html>
